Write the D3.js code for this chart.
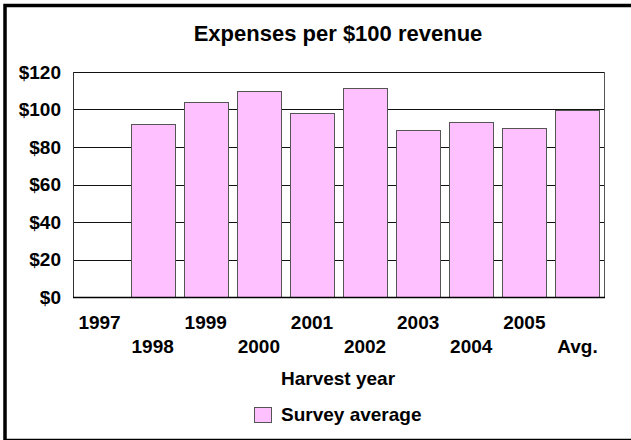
<!DOCTYPE html>
<html>
<head>
<meta charset="utf-8">
<script src="https://cdn.jsdelivr.net/npm/d3@7"></script>
<style>
  html, body { margin: 0; padding: 0; background: #fff; }
  text { font-family: "Liberation Sans", Arial, sans-serif; font-weight: bold; fill: #000; }
</style>
</head>
<body>
<svg id="chart" width="631" height="440"></svg>
<script>
// Expenses per $100 of revenue, by harvest year
const years = ["1997", "1998", "1999", "2000", "2001", "2002", "2003", "2004", "2005", "Avg."];
const surveyAverage = [null, 92.4, 103.8, 110.0, 98.1, 111.6, 88.9, 93.3, 89.9, 99.5];
const yTicks = [0, 20, 40, 60, 80, 100, 120];
const seriesName = "Survey average";

const svg = d3.select("#chart");
const plot = { left: 73, top: 72, right: 604, bottom: 297 };
const pink = "#FFC0FF";

// outer frame (runs past the right edge of the canvas)
svg.append("rect")
  .attr("x", 5).attr("y", 5.5)
  .attr("width", 640).attr("height", 435)
  .attr("fill", "#fff").attr("stroke", "#000").attr("stroke-width", 3.5);

// title
svg.append("text")
  .attr("x", 338).attr("y", 41)
  .attr("text-anchor", "middle")
  .style("font-size", "22px")
  .text("Expenses per $100 revenue");

const x = d3.scaleBand()
  .domain(years)
  .range([plot.left, plot.right])
  .paddingInner(0.17)
  .paddingOuter(0.085);

const y = d3.scaleLinear()
  .domain([0, 120])
  .range([plot.bottom, plot.top]);

// gridlines
svg.append("g")
  .selectAll("line")
  .data(yTicks)
  .join("line")
  .attr("x1", plot.left).attr("x2", plot.right)
  .attr("y1", d => Math.round(y(d)) + 0.5)
  .attr("y2", d => Math.round(y(d)) + 0.5)
  .attr("stroke", "#111").attr("stroke-width", 1);

// plot frame (left / right edges)
svg.append("line")
  .attr("x1", plot.left + 0.5).attr("x2", plot.left + 0.5)
  .attr("y1", plot.top).attr("y2", plot.bottom + 1)
  .attr("stroke", "#333");
svg.append("line")
  .attr("x1", plot.right + 0.5).attr("x2", plot.right + 0.5)
  .attr("y1", plot.top).attr("y2", plot.bottom + 1)
  .attr("stroke", "#555");

// bars
svg.append("g")
  .selectAll("rect")
  .data(years.map((yr, i) => ({ yr, v: surveyAverage[i] })).filter(d => d.v != null))
  .join("rect")
  .attr("x", d => Math.round(x(d.yr)) + 0.5)
  .attr("y", d => Math.round(y(d.v)) + 0.5)
  .attr("width", Math.round(x.bandwidth()))
  .attr("height", d => Math.round(y(0)) - Math.round(y(d.v)))
  .attr("fill", pink)
  .attr("stroke", "#555")
  .attr("stroke-width", 1);

// baseline
svg.append("line")
  .attr("x1", plot.left).attr("x2", plot.right + 1)
  .attr("y1", Math.round(y(0)) + 0.5).attr("y2", Math.round(y(0)) + 0.5)
  .attr("stroke", "#000").attr("stroke-width", 1.5);

// y axis labels
const yAxis = d3.axisLeft(y)
  .tickValues(yTicks)
  .tickSize(0)
  .tickPadding(12)
  .tickFormat(d => "$" + d);
const gy = svg.append("g")
  .attr("transform", `translate(${plot.left},0)`)
  .call(yAxis);
gy.select(".domain").remove();
gy.selectAll("text")
  .style("font-size", "19px")
  .style("font-family", "'Liberation Sans', Arial, sans-serif")
  .style("font-weight", "bold")
  .attr("fill", "#000");

// x axis labels, staggered over two rows
const xAxis = d3.axisBottom(x).tickSize(0).tickPadding(0);
const gx = svg.append("g")
  .attr("transform", `translate(0,${plot.bottom})`)
  .call(xAxis);
gx.select(".domain").remove();
gx.selectAll("text")
  .style("font-size", "19px")
  .style("font-family", "'Liberation Sans', Arial, sans-serif")
  .style("font-weight", "bold")
  .attr("fill", "#000")
  .attr("dy", null)
  .attr("y", (d, i) => (i % 2 === 0 ? 32 : 56));

// axis title
svg.append("text")
  .attr("x", 338).attr("y", 385)
  .attr("text-anchor", "middle")
  .style("font-size", "19px")
  .text("Harvest year");

// legend
const legend = svg.append("g").attr("transform", "translate(254,407)");
legend.append("rect")
  .attr("x", 0.5).attr("y", 0.5)
  .attr("width", 17).attr("height", 15)
  .attr("fill", pink).attr("stroke", "#555");
legend.append("text")
  .attr("x", 27).attr("y", 14)
  .style("font-size", "19px")
  .text(seriesName);
</script>
</body>
</html>
